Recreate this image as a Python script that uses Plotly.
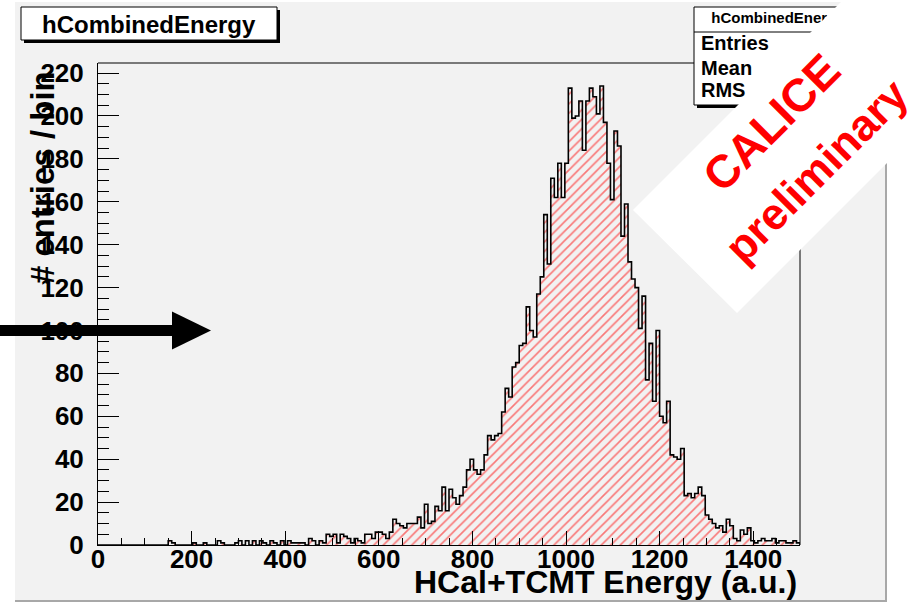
import numpy as np
import plotly.graph_objects as go

# ---- histogram content: 200 bins of 7.5 a.u. between 0 and 1500 ----
E_MIN, E_MAX, N_BINS = 0.0, 1500.0, 200
counts = [
    0, 0, 0, 0, 0, 0, 0, 0, 0, 0,
    0, 0, 0, 0, 0, 0, 0, 0, 0, 0,
    2, 1, 0, 0, 0, 0, 0, 1, 0, 0,
    1, 0, 0, 0, 2, 1, 0, 0, 0, 1,
    2, 0, 2, 0, 2, 0, 2, 1, 0, 2,
    1, 0, 2, 0, 2, 1, 1, 1, 1, 0,
    3, 2, 0, 2, 1, 5, 4, 5, 1, 5,
    4, 3, 1, 3, 2, 1, 5, 5, 3, 6,
    6, 5, 3, 6, 12, 10, 9, 8, 10, 10,
    10, 13, 8, 19, 10, 11, 18, 16, 27, 16,
    26, 22, 19, 23, 27, 35, 40, 35, 33, 35,
    42, 51, 49, 51, 52, 62, 73, 69, 83, 85,
    93, 94, 111, 100, 97, 117, 125, 154, 131, 171,
    162, 178, 162, 178, 213, 199, 200, 207, 184, 207,
    213, 209, 201, 214, 197, 178, 161, 193, 186, 144,
    159, 132, 124, 120, 101, 116, 77, 94, 67, 100,
    60, 57, 67, 42, 41, 40, 45, 23, 24, 22,
    24, 27, 23, 14, 12, 10, 8, 9, 6, 12,
    9, 3, 2, 7, 5, 8, 2, 1, 2, 3,
    2, 2, 3, 1, 2, 2, 1, 1, 2, 1,
]

X_TICKS = [0, 200, 400, 600, 800, 1000, 1200, 1400]
Y_TICKS = [0, 20, 40, 60, 80, 100, 120, 140, 160, 180, 200, 220]

HIST_NAME = "hCombinedEnergy"
X_TITLE = "HCal+TCMT Energy (a.u.)"
Y_TITLE = "# entries / bin"
STAT_LABELS = ["Entries", "Mean", "RMS"]
STAMP_LINES = ["CALICE", "preliminary"]
ARROW_LEVEL = 100

# ---- canvas geometry (pixels) ----
W, H = 916, 603
FRAME_L, FRAME_R, FRAME_T, FRAME_B = 98, 800, 63, 545

edges = np.linspace(E_MIN, E_MAX, N_BINS + 1)
centers = 0.5 * (edges[:-1] + edges[1:])
bin_w = edges[1] - edges[0]
y_top = 1.05 * max(counts)

FONT = "Liberation Sans"
CANVAS = "#f2f2f2"


def fx(p):
    """pixel column -> paper x (the paper spans the whole canvas)"""
    return p / W


def fy(p):
    """pixel row -> paper y"""
    return 1 - p / H


fig = go.Figure()

# hatched fill of the histogram
fig.add_trace(go.Bar(
    x=centers, y=counts, width=bin_w,
    marker=dict(color="rgba(0,0,0,0)", line=dict(width=0),
                pattern=dict(shape="/", fgcolor="#ff0000", size=6.7, solidity=0.24)),
    hoverinfo="skip",
))

# step outline of the histogram
step_x = [edges[0]] + list(edges[:-1]) + [edges[-1]]
step_y = [0] + list(counts) + [0]
fig.add_trace(go.Scatter(
    x=step_x, y=step_y, mode="lines", line=dict(color="black", width=1.6, shape="hv"),
    hoverinfo="skip",
))

# statistics box text, on a pixel-space overlay so it sits under the stamp band
fig.add_trace(go.Scatter(
    x=[778], y=[19], mode="text", text=[HIST_NAME], xaxis="x2", yaxis="y2",
    textposition="middle center", cliponaxis=False,
    textfont=dict(family=FONT, size=15, color="black", weight="bold"),
    hoverinfo="skip",
))
fig.add_trace(go.Scatter(
    x=[701] * 3, y=[45, 70, 92], mode="text", text=STAT_LABELS, xaxis="x2", yaxis="y2",
    textposition="middle right", cliponaxis=False,
    textfont=dict(family=FONT, size=20, color="black", weight="bold"),
    hoverinfo="skip",
))

shapes = []
# canvas pad with bevel edges
shapes.append(dict(type="rect", xref="paper", yref="paper", x0=fx(15), x1=fx(886),
                   y0=fy(601), y1=fy(2), fillcolor=CANVAS, line=dict(width=0), layer="below"))
shapes.append(dict(type="line", xref="paper", yref="paper", x0=fx(886), x1=fx(886),
                   y0=fy(2), y1=fy(602), line=dict(color="#a8a8a8", width=2), layer="below"))
shapes.append(dict(type="line", xref="paper", yref="paper", x0=fx(15), x1=fx(887),
                   y0=fy(601), y1=fy(601), line=dict(color="#a8a8a8", width=2), layer="below"))

# statistics box (below the traces so its text stays visible)
shapes.append(dict(type="rect", xref="paper", yref="paper", x0=fx(697), x1=fx(861),
                   y0=fy(108), y1=fy(10), fillcolor="black", line=dict(width=0), layer="below"))
shapes.append(dict(type="rect", xref="paper", yref="paper", x0=fx(694), x1=fx(858),
                   y0=fy(105), y1=fy(7), fillcolor="white", line=dict(color="black", width=1),
                   layer="below"))
shapes.append(dict(type="line", xref="paper", yref="paper", x0=fx(694), x1=fx(858),
                   y0=fy(32), y1=fy(32), line=dict(color="black", width=1), layer="below"))

# frame top and right edges
shapes.append(dict(type="line", xref="paper", yref="paper", x0=fx(FRAME_L), x1=fx(694),
                   y0=fy(FRAME_T), y1=fy(FRAME_T), line=dict(color="black", width=1), layer="above"))
shapes.append(dict(type="line", xref="paper", yref="paper", x0=fx(FRAME_R), x1=fx(FRAME_R),
                   y0=fy(FRAME_B), y1=fy(FRAME_T), line=dict(color="black", width=1), layer="above"))

# title box with shadow
shapes.append(dict(type="rect", xref="paper", yref="paper", x0=fx(24), x1=fx(280),
                   y0=fy(43), y1=fy(10), fillcolor="black", line=dict(width=0), layer="above"))
shapes.append(dict(type="rect", xref="paper", yref="paper", x0=fx(21), x1=fx(277),
                   y0=fy(40), y1=fy(7), fillcolor="white", line=dict(color="black", width=1),
                   layer="above"))

# arrow pointing at the 100-entries level
frame_h = FRAME_B - FRAME_T
half_shaft, half_head = 5.5 * y_top / frame_h, 19 * y_top / frame_h
shapes.append(dict(type="rect", xref="paper", yref="y", x0=fx(0), x1=fx(176),
                   y0=ARROW_LEVEL - half_shaft, y1=ARROW_LEVEL + half_shaft,
                   fillcolor="black", line=dict(width=0), layer="above"))
shapes.append(dict(type="path", xref="paper", yref="y",
                   path=(f"M{fx(172)},{ARROW_LEVEL + half_head} L{fx(211)},{ARROW_LEVEL} "
                         f"L{fx(172)},{ARROW_LEVEL - half_head} Z"),
                   fillcolor="black", line=dict(width=0), layer="above"))

# white diagonal band behind the preliminary stamp
band = [(633, 210), (737, 313), (1067, -17), (863, -20)]
band_path = "M" + " L".join(f"{fx(a)},{fy(b)}" for a, b in band) + " Z"
shapes.append(dict(type="path", xref="paper", yref="paper", path=band_path,
                   fillcolor="white", line=dict(width=0), layer="above"))

annotations = [
    dict(text=HIST_NAME, xref="paper", yref="paper", x=fx(149), y=fy(24),
         xanchor="center", yanchor="middle", showarrow=False,
         font=dict(family=FONT, size=24, color="black", weight="bold")),
    dict(text=X_TITLE, xref="paper", yref="paper", x=fx(799), y=fy(582),
         xanchor="right", yanchor="middle", showarrow=False,
         font=dict(family=FONT, size=32, color="black", weight="bold")),
    dict(text=Y_TITLE, xref="paper", yref="paper", x=fx(42), y=fy(178),
         xanchor="center", yanchor="middle", showarrow=False, textangle=-90,
         font=dict(family=FONT, size=33, color="black", weight="bold")),
    dict(text=STAMP_LINES[0], xref="paper", yref="paper", x=fx(771), y=fy(123),
         xanchor="center", yanchor="middle", showarrow=False, textangle=-45,
         font=dict(family=FONT, size=46, color="#ff0000", weight="bold")),
    dict(text=STAMP_LINES[1], xref="paper", yref="paper", x=fx(816), y=fy(170),
         xanchor="center", yanchor="middle", showarrow=False, textangle=-45,
         font=dict(family=FONT, size=44, color="#ff0000", weight="bold")),
]

tick_font = dict(family=FONT, size=26, color="black", weight="bold")
fig.update_layout(
    width=W, height=H,
    margin=dict(l=0, r=0, t=0, b=0, pad=0, autoexpand=False),
    paper_bgcolor="white", plot_bgcolor="rgba(0,0,0,0)",
    showlegend=False, bargap=0,
    shapes=shapes, annotations=annotations,
    xaxis=dict(domain=[fx(FRAME_L), fx(FRAME_R)], anchor="y", automargin=False,
               range=[E_MIN, E_MAX], tickvals=X_TICKS, ticktext=[str(v) for v in X_TICKS],
               ticks="inside", ticklen=14, tickwidth=1, tickcolor="black",
               minor=dict(dtick=50, ticks="inside", ticklen=7, tickwidth=1, tickcolor="black"),
               showline=True, linecolor="black", linewidth=1, mirror=False,
               showgrid=False, zeroline=False, tickfont=tick_font, ticklabelstandoff=-9),
    yaxis=dict(domain=[fy(FRAME_B), fy(FRAME_T)], anchor="x", automargin=False,
               range=[0, y_top], tickvals=Y_TICKS, ticktext=[str(v) for v in Y_TICKS],
               ticks="inside", ticklen=21, tickwidth=1, tickcolor="black",
               minor=dict(dtick=5, ticks="inside", ticklen=10.5, tickwidth=1, tickcolor="black"),
               showline=True, linecolor="black", linewidth=1, mirror=False,
               showgrid=False, zeroline=False, tickfont=tick_font, ticklabelstandoff=8),
    xaxis2=dict(domain=[0, 1], range=[0, W], anchor="y2", visible=False, fixedrange=True,
                automargin=False),
    yaxis2=dict(domain=[0, 1], range=[H, 0], anchor="x2", visible=False, fixedrange=True,
                automargin=False),
)

fig.write_html("out.html")
